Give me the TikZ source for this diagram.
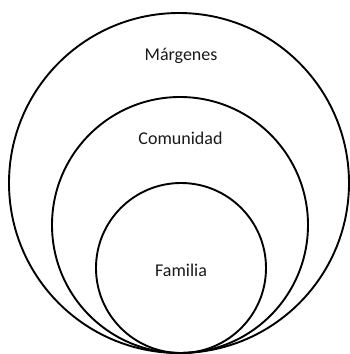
\documentclass[tikz,border=0pt]{standalone}
\usepackage{fontspec}
\setmainfont{Carlito}
\begin{document}
\begin{tikzpicture}[x=1pt,y=-1pt,
  ring/.style={circle, draw=black, line width=1.9pt, inner sep=0pt, fill=none},
  lbl/.style={anchor=base, font=\fontsize{18}{20}\selectfont, text=black!90}]
\useasboundingbox (0,0) rectangle (350,354);
\node[ring, minimum size=340pt] (outer) at (179,183) {};
\node[ring, minimum size=256pt] (middle) at (180,225) {};
\node[ring, minimum size=170pt] (inner) at (181,268) {};
\node[lbl] (t1) at (181,60) {Márgenes};
\node[lbl] (t2) at (180.5,144) {Comunidad};
\node[lbl] (t3) at (181,276) {Familia};
\end{tikzpicture}
\end{document}
